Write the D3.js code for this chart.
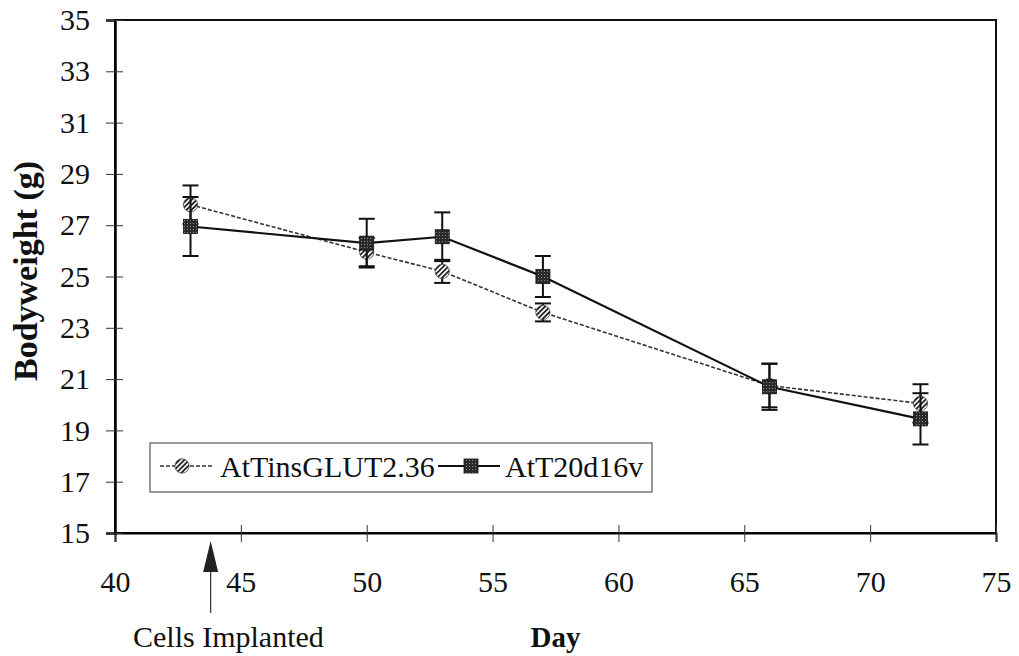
<!DOCTYPE html>
<html>
<head>
<meta charset="utf-8">
<script src="https://cdn.jsdelivr.net/npm/d3@7"></script>
<style>
  body { margin: 0; background: #fff; }
  text { font-family: 'Liberation Serif', 'Times New Roman', serif; fill: #111; }
</style>
</head>
<body>
<script>
// data
const days = [43, 50, 53, 57, 66, 72];
const glutMean = [27.8, 25.95, 25.2, 23.6, 20.75, 20.05];
const glutErr = [0.75, 0.55, 0.45, 0.35, 0.85, 0.75];
const t20Mean = [26.95, 26.3, 26.55, 25.0, 20.7, 19.45];
const t20Err = [1.15, 0.95, 0.95, 0.8, 0.9, 1.0];
const xTicks = [40, 45, 50, 55, 60, 65, 70, 75];
const yTicks = [15, 17, 19, 21, 23, 25, 27, 29, 31, 33, 35];
const seriesNames = ["AtTinsGLUT2.36", "AtT20d16v"];
const implantDay = 43.8;

const width = 1019;
const height = 656;
const plot = {left: 115, right: 996, top: 20, bottom: 533};
const serif = "'Liberation Serif', 'Times New Roman', serif";

const svg = d3.select("body").append("svg")
      .attr("width", width)
      .attr("height", height);

const defs = svg.append("defs");
const hatch = defs.append("pattern")
      .attr("id", "hatch")
      .attr("patternUnits", "userSpaceOnUse")
      .attr("width", 3.5).attr("height", 3.5)
      .attr("patternTransform", "rotate(45)");
hatch.append("rect").attr("width", 3.5).attr("height", 3.5).attr("fill", "#fff");
hatch.append("rect").attr("width", 1.8).attr("height", 3.5).attr("fill", "#222");

const stipple = defs.append("pattern")
      .attr("id", "stipple")
      .attr("patternUnits", "userSpaceOnUse")
      .attr("width", 3).attr("height", 3);
stipple.append("rect").attr("width", 3).attr("height", 3).attr("fill", "#2a2a2a");
stipple.append("rect").attr("x", 1).attr("y", 1).attr("width", 1).attr("height", 1).attr("fill", "#888");

const xScale = d3.scaleLinear().domain([40, 75]).range([plot.left, plot.right]);
const yScale = d3.scaleLinear().domain([15, 35]).range([plot.bottom, plot.top]);

// frame
svg.append("rect")
      .attr("x", plot.left).attr("y", plot.top)
      .attr("width", plot.right - plot.left)
      .attr("height", plot.bottom - plot.top)
      .attr("fill", "none")
      .attr("stroke", "#111")
      .attr("stroke-width", 2);

// axes
const xAxis = svg.append("g")
      .attr("transform", `translate(0, ${plot.bottom})`)
      .call(d3.axisBottom(xScale).tickValues(xTicks).tickSize(9))
      .attr("font-family", serif)
      .attr("font-size", 30);
xAxis.select(".domain").attr("stroke-width", 2);
xAxis.selectAll(".tick line").attr("y1", -8).attr("stroke", "#333");
xAxis.selectAll(".tick text")
      .attr("y", 38)
      .attr("fill", "#111");

const yAxis = svg.append("g")
      .attr("transform", `translate(${plot.left}, 0)`)
      .call(d3.axisLeft(yScale).tickValues(yTicks).tickSize(9))
      .attr("font-family", serif)
      .attr("font-size", 30);
yAxis.select(".domain").attr("stroke-width", 2.5);
yAxis.selectAll(".tick line").attr("x1", 8).attr("stroke", "#333");
yAxis.selectAll(".tick text")
      .attr("x", -25)
      .attr("fill", "#111");

// series
const glut = days.map((d, i) => ({day: d, v: glutMean[i], e: glutErr[i]}));
const t20 = days.map((d, i) => ({day: d, v: t20Mean[i], e: t20Err[i]}));

const line = d3.line()
      .x(d => xScale(d.day))
      .y(d => yScale(d.v));

function drawErrors(data) {
      const g = svg.append("g").attr("stroke", "#111").attr("stroke-width", 2);
      data.forEach(d => {
            const x = xScale(d.day);
            g.append("line").attr("x1", x).attr("x2", x)
                  .attr("y1", yScale(d.v + d.e)).attr("y2", yScale(d.v - d.e));
            [d.v + d.e, d.v - d.e].forEach(v => {
                  g.append("line").attr("x1", x - 8).attr("x2", x + 8)
                        .attr("y1", yScale(v)).attr("y2", yScale(v));
            });
      });
}

function glutMarker(g, x, y) {
      g.append("path")
            .attr("d", d3.symbol().type(d3.symbolCircle).size(160)())
            .attr("transform", `translate(${x}, ${y})`)
            .attr("fill", "url(#hatch)")
            .attr("stroke", "#444")
            .attr("stroke-width", 0.8);
}

function t20Marker(g, x, y) {
      g.append("rect")
            .attr("x", x - 7).attr("y", y - 7)
            .attr("width", 14).attr("height", 14)
            .attr("fill", "url(#stipple)")
            .attr("stroke", "#111")
            .attr("stroke-width", 0.8);
}

drawErrors(glut);
svg.append("path")
      .datum(glut)
      .attr("fill", "none")
      .attr("stroke", "#333")
      .attr("stroke-width", 1.6)
      .attr("stroke-dasharray", "4,2")
      .attr("d", line);
const glutPts = svg.append("g");
glut.forEach(d => glutMarker(glutPts, xScale(d.day), yScale(d.v)));

drawErrors(t20);
svg.append("path")
      .datum(t20)
      .attr("fill", "none")
      .attr("stroke", "#111")
      .attr("stroke-width", 2.2)
      .attr("d", line);
const t20Pts = svg.append("g");
t20.forEach(d => t20Marker(t20Pts, xScale(d.day), yScale(d.v)));

// legend
const legend = svg.append("g");
legend.append("rect")
      .attr("x", 150).attr("y", 443)
      .attr("width", 502).attr("height", 49)
      .attr("fill", "#fff")
      .attr("stroke", "#555")
      .attr("stroke-width", 1.2);
legend.append("line")
      .attr("x1", 160).attr("x2", 212).attr("y1", 466).attr("y2", 466)
      .attr("stroke", "#333").attr("stroke-width", 1.6).attr("stroke-dasharray", "4,2");
glutMarker(legend, 182, 466);
legend.append("text")
      .attr("x", 220).attr("y", 477)
      .style("font-size", "30px")
      .text(seriesNames[0]);
legend.append("line")
      .attr("x1", 438).attr("x2", 500).attr("y1", 466).attr("y2", 466)
      .attr("stroke", "#111").attr("stroke-width", 2.2);
t20Marker(legend, 471, 466);
legend.append("text")
      .attr("x", 505).attr("y", 477)
      .style("font-size", "30px")
      .text(seriesNames[1]);

// implant arrow
const ax = xScale(implantDay);
svg.append("line")
      .attr("x1", ax).attr("x2", ax).attr("y1", 570).attr("y2", 613)
      .attr("stroke", "#333").attr("stroke-width", 1.2);
svg.append("path")
      .attr("d", `M${ax},541 L${ax - 7.5},572 L${ax + 7.5},572 Z`)
      .attr("fill", "#222");

svg.append("text")
      .attr("x", 133).attr("y", 647)
      .style("font-size", "30px")
      .text("Cells Implanted");

// axis titles
svg.append("text")
      .attr("x", (plot.left + plot.right) / 2).attr("y", 647)
      .attr("text-anchor", "middle")
      .style("font-size", "29px")
      .style("font-weight", "bold")
      .text("Day");

svg.append("text")
      .attr("transform", "translate(37, 271) rotate(-90)")
      .attr("text-anchor", "middle")
      .style("font-size", "34px")
      .style("font-weight", "bold")
      .text("Bodyweight (g)");
</script>
</body>
</html>
